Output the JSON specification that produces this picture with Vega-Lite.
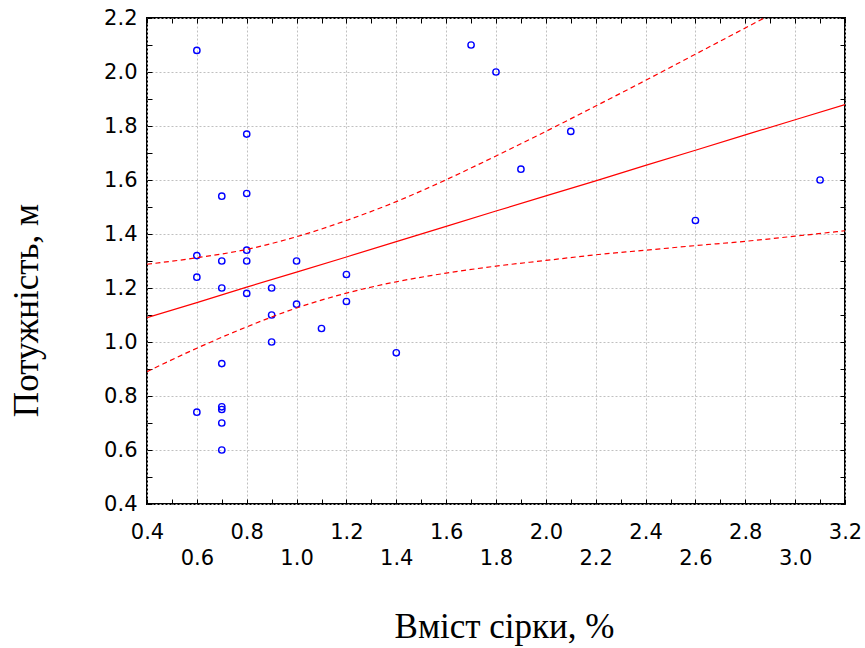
{
  "$schema": "https://vega.github.io/schema/vega-lite/v6.json",
  "width": 698,
  "height": 486,
  "autosize": {"type": "none"},
  "padding": {"left": 147, "top": 18, "right": 20, "bottom": 144},
  "background": "white",
  "view": {"stroke": "black", "strokeWidth": 2},
  "datasets": {
    "points": [
      {"sulfur": 0.6, "power": 2.08}, {"sulfur": 0.6, "power": 1.32}, {"sulfur": 0.6, "power": 1.24}, {"sulfur": 0.6, "power": 0.74},
      {"sulfur": 0.7, "power": 1.54}, {"sulfur": 0.7, "power": 1.30}, {"sulfur": 0.7, "power": 1.20}, {"sulfur": 0.7, "power": 0.92},
      {"sulfur": 0.7, "power": 0.76}, {"sulfur": 0.7, "power": 0.75}, {"sulfur": 0.7, "power": 0.70}, {"sulfur": 0.7, "power": 0.60},
      {"sulfur": 0.8, "power": 1.77}, {"sulfur": 0.8, "power": 1.55}, {"sulfur": 0.8, "power": 1.34}, {"sulfur": 0.8, "power": 1.30},
      {"sulfur": 0.8, "power": 1.18}, {"sulfur": 0.9, "power": 1.20}, {"sulfur": 0.9, "power": 1.10}, {"sulfur": 0.9, "power": 1.00},
      {"sulfur": 1.0, "power": 1.30}, {"sulfur": 1.0, "power": 1.14}, {"sulfur": 1.1, "power": 1.05}, {"sulfur": 1.2, "power": 1.25},
      {"sulfur": 1.2, "power": 1.15}, {"sulfur": 1.4, "power": 0.96}, {"sulfur": 1.7, "power": 2.10}, {"sulfur": 1.8, "power": 2.00},
      {"sulfur": 1.9, "power": 1.64}, {"sulfur": 2.1, "power": 1.78}, {"sulfur": 2.6, "power": 1.45}, {"sulfur": 3.1, "power": 1.60}
    ],
    "fit": [
      {"sulfur": 0.4, "fit": 1.090, "upper": 1.288, "lower": 0.890},
      {"sulfur": 0.6, "fit": 1.146, "upper": 1.312, "lower": 0.977},
      {"sulfur": 0.8, "fit": 1.203, "upper": 1.343, "lower": 1.056},
      {"sulfur": 1.0, "fit": 1.259, "upper": 1.390, "lower": 1.126},
      {"sulfur": 1.2, "fit": 1.315, "upper": 1.450, "lower": 1.181},
      {"sulfur": 1.4, "fit": 1.372, "upper": 1.520, "lower": 1.223},
      {"sulfur": 1.6, "fit": 1.428, "upper": 1.601, "lower": 1.255},
      {"sulfur": 1.8, "fit": 1.485, "upper": 1.689, "lower": 1.281},
      {"sulfur": 2.0, "fit": 1.541, "upper": 1.780, "lower": 1.302},
      {"sulfur": 2.2, "fit": 1.597, "upper": 1.874, "lower": 1.323},
      {"sulfur": 2.4, "fit": 1.654, "upper": 1.969, "lower": 1.340},
      {"sulfur": 2.6, "fit": 1.710, "upper": 2.066, "lower": 1.357},
      {"sulfur": 2.8, "fit": 1.767, "upper": 2.163, "lower": 1.373},
      {"sulfur": 3.0, "fit": 1.823, "upper": 2.261, "lower": 1.392},
      {"sulfur": 3.2, "fit": 1.879, "upper": 2.359, "lower": 1.412}
    ]
  },
  "layer": [
    {
      "data": {"name": "points"},
      "mark": {"type": "point", "shape": "circle", "filled": false, "color": "#0000ff", "size": 40, "strokeWidth": 1.4, "opacity": 1, "clip": true},
      "encoding": {
        "x": {
          "field": "sulfur", "type": "quantitative",
          "scale": {"domain": [0.4, 3.2], "nice": false, "zero": false},
          "axis": {
            "orient": "bottom",
            "values": [0.4,0.5,0.6,0.7,0.8,0.9,1.0,1.1,1.2,1.3,1.4,1.5,1.6,1.7,1.8,1.9,2.0,2.1,2.2,2.3,2.4,2.5,2.6,2.7,2.8,2.9,3.0,3.1,3.2],
            "domain": false,
            "grid": true, "gridColor": "#c0c0c0", "gridDash": [2, 2], "gridWidth": 1,
            "gridOpacity": {"condition": {"test": "round(datum.value*10)%2==1", "value": 0}, "value": 1},
            "ticks": true, "tickSize": -5, "tickColor": "black", "tickWidth": 1,
            "labelExpr": "round(datum.value*10)%2==1 ? '' : format(datum.value, '.1f')",
            "labelPadding": {"condition": {"test": "round(datum.value*10)%4==2", "value": 48}, "value": 22},
            "labelFlush": false, "labelOverlap": false,
            "labelFont": "DejaVu Sans", "labelFontSize": 21, "labelColor": "black",
            "title": "Вміст сірки, %",
            "titleFont": "Liberation Serif", "titleFontSize": 35, "titleFontWeight": "normal", "titleColor": "black",
            "titleBaseline": "alphabetic", "titleX": 357, "titleY": 133, "titleAnchor": "middle"
          }
        },
        "y": {
          "field": "power", "type": "quantitative",
          "scale": {"domain": [0.4, 2.2], "nice": false, "zero": false},
          "axis": {
            "orient": "left",
            "values": [0.4,0.5,0.6,0.7,0.8,0.9,1.0,1.1,1.2,1.3,1.4,1.5,1.6,1.7,1.8,1.9,2.0,2.1,2.2],
            "domain": false,
            "grid": true, "gridColor": "#c0c0c0", "gridDash": [2, 2], "gridWidth": 1,
            "gridOpacity": {"condition": {"test": "round(datum.value*10)%2==1", "value": 0}, "value": 1},
            "ticks": true, "tickSize": -5, "tickColor": "black", "tickWidth": 1,
            "labelExpr": "round(datum.value*10)%2==1 ? '' : format(datum.value, '.1f')",
            "labelPadding": 15,
            "labelFlush": false, "labelOverlap": false,
            "labelFont": "DejaVu Sans", "labelFontSize": 21, "labelColor": "black",
            "title": "Потужність, м",
            "titleFont": "Liberation Serif", "titleFontSize": 35, "titleFontWeight": "normal", "titleColor": "black",
            "titleAngle": -90, "titleBaseline": "alphabetic", "titleAlign": "center",
            "titleX": -110, "titleY": 292
          }
        }
      }
    },
    {
      "data": {"name": "fit"},
      "mark": {"type": "line", "color": "#ff0000", "strokeWidth": 1.2, "clip": true},
      "encoding": {
        "x": {
          "field": "sulfur", "type": "quantitative",
          "scale": {"domain": [0.4, 3.2], "nice": false, "zero": false},
          "axis": {
            "orient": "top",
            "values": [0.4,0.5,0.6,0.7,0.8,0.9,1.0,1.1,1.2,1.3,1.4,1.5,1.6,1.7,1.8,1.9,2.0,2.1,2.2,2.3,2.4,2.5,2.6,2.7,2.8,2.9,3.0,3.1,3.2],
            "domain": false, "grid": false, "labels": false, "title": null,
            "ticks": true, "tickSize": -5, "tickColor": "black", "tickWidth": 1
          }
        },
        "y": {
          "field": "fit", "type": "quantitative",
          "scale": {"domain": [0.4, 2.2], "nice": false, "zero": false},
          "axis": {
            "orient": "right",
            "values": [0.4,0.5,0.6,0.7,0.8,0.9,1.0,1.1,1.2,1.3,1.4,1.5,1.6,1.7,1.8,1.9,2.0,2.1,2.2],
            "domain": false, "grid": false, "labels": false, "title": null,
            "ticks": true, "tickSize": -5, "tickColor": "black", "tickWidth": 1
          }
        }
      }
    },
    {
      "data": {"name": "fit"},
      "mark": {"type": "line", "color": "#ff0000", "strokeWidth": 1.2, "strokeDash": [5, 3.5], "interpolate": "monotone", "clip": true},
      "encoding": {
        "x": {"field": "sulfur", "type": "quantitative", "scale": {"domain": [0.4, 3.2], "nice": false, "zero": false}, "axis": null},
        "y": {"field": "upper", "type": "quantitative", "scale": {"domain": [0.4, 2.2], "nice": false, "zero": false}, "axis": null}
      }
    },
    {
      "data": {"name": "fit"},
      "mark": {"type": "line", "color": "#ff0000", "strokeWidth": 1.2, "strokeDash": [5, 3.5], "interpolate": "monotone", "clip": true},
      "encoding": {
        "x": {"field": "sulfur", "type": "quantitative", "scale": {"domain": [0.4, 3.2], "nice": false, "zero": false}, "axis": null},
        "y": {"field": "lower", "type": "quantitative", "scale": {"domain": [0.4, 2.2], "nice": false, "zero": false}, "axis": null}
      }
    }
  ],
  "resolve": {"axis": {"x": "independent", "y": "independent"}}
}
